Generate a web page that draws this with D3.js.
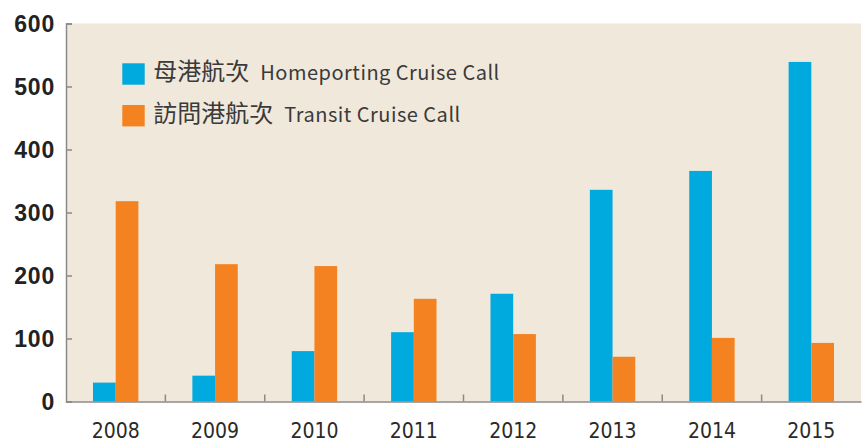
<!DOCTYPE html>
<html>
<head>
<meta charset="utf-8">
<script src="https://cdn.jsdelivr.net/npm/d3@7"></script>
<style>
  body { margin: 0; background: #fff; }
</style>
</head>
<body>
<div id="chart"></div>
<script>
var years = ["2008", "2009", "2010", "2011", "2012", "2013", "2014", "2015"];
var homeporting = [30, 41, 80, 110, 171, 336, 366, 539];
var transit = [318, 218, 215, 163, 107, 71, 101, 93];
var yTicks = [0, 100, 200, 300, 400, 500, 600];
var seriesZh = ["母港航次", "訪問港航次"];
var seriesEn = ["Homeporting Cruise Call", "Transit Cruise Call"];

var colors = ["#00a9de", "#f58220"];

var margin = { top: 23.5, left: 66, bottom: 40.5, right: 6 },
    initialWidth = 867,
    initialHeight = 442,
    width = initialWidth - margin.left - margin.right,
    height = initialHeight - margin.top - margin.bottom;

var svg = d3.select('#chart').append('svg')
    .attr('width', initialWidth)
    .attr('height', initialHeight)
    .append('g')
    .attr('transform', 'translate(' + margin.left + ', ' + margin.top + ')');

// plot background
svg.append("rect")
    .attr("width", width)
    .attr("height", height)
    .attr("fill", "#f0e8da");

const x = d3.scaleBand()
    .domain(years)
    .range([0, width])
    .padding(0);

const groupWidth = 45.4;
const x1 = d3.scaleBand()
    .domain([0, 1])
    .range([0, groupWidth]);

const y = d3.scaleLinear()
    .domain([0, 600])
    .range([height, 0]);

var rows = years.map((yr, i) => ({ year: yr, values: [homeporting[i], transit[i]] }));

var groups = svg.selectAll(".grp")
    .data(rows)
    .join("g")
    .attr("class", "grp")
    .attr("transform", d => "translate(" + (x(d.year) + (x.bandwidth() - groupWidth) / 2) + ",0)");

groups.selectAll("rect")
    .data(d => d.values.map((v, k) => ({ k: k, v: v })))
    .join("rect")
    .attr("x", d => x1(d.k))
    .attr("width", x1.bandwidth())
    .attr("y", d => y(d.v))
    .attr("height", d => height - y(d.v))
    .attr("fill", d => colors[d.k]);

// y axis
var yAxis = svg.append("g")
    .attr("class", "y-axis")
    .call(d3.axisRight(y).tickValues(yTicks).tickSize(6).tickFormat(d3.format("d")));
yAxis.select(".domain").attr("stroke", "#8a8a8a").attr("stroke-width", 1.5);
yAxis.selectAll(".tick line").attr("stroke", "#8a8a8a").attr("stroke-width", 1.5);
yAxis.selectAll("text")
    .attr("x", -11)
    .attr("dy", "0.36em")
    .style("text-anchor", "end")
    .style("font-family", "'Liberation Sans', Arial, sans-serif")
    .style("font-weight", "bold")
    .style("font-size", "23px")
    .style("letter-spacing", "0.8px")
    .attr("fill", "#222");

// x axis line and boundary ticks
var xAxis = svg.append("g")
    .attr("class", "x-axis")
    .attr("transform", "translate(0," + height + ")")
    .call(d3.axisBottom(x).tickSize(0).tickPadding(22));
xAxis.select(".domain").attr("stroke", "#8a8a8a").attr("stroke-width", 1.5);
xAxis.selectAll("text")
    .attr("dy", "0.71em")
    .style("font-family", "'DejaVu Sans Condensed', 'Liberation Sans', sans-serif")
    .style("font-size", "21px")
    .attr("fill", "#2a2a2a");

svg.selectAll(".xb")
    .data(years.slice(1))
    .join("line")
    .attr("class", "xb")
    .attr("x1", d => x(d))
    .attr("x2", d => x(d))
    .attr("y1", height)
    .attr("y2", height - 7)
    .attr("stroke", "#8a8a8a")
    .attr("stroke-width", 1.5);

// legend
var legend = svg.append("g")
    .attr("transform", "translate(56.3, 39.8)");

var li = legend.selectAll("g")
    .data(seriesZh)
    .join("g")
    .attr("transform", (d, i) => "translate(0," + (i * 41.7) + ")");

li.append("rect")
    .attr("width", 22.4)
    .attr("height", 21.4)
    .attr("fill", (d, i) => colors[i]);

var lt = li.append("text")
    .attr("x", 31)
    .attr("y", 11)
    .attr("dy", "0.35em")
    .style("font-family", "'Noto Sans CJK TC', 'Noto Sans', sans-serif")
    .attr("fill", "#3a3a3a");

lt.append("tspan")
    .style("font-size", "24px")
    .text(d => d);

lt.append("tspan")
    .attr("dx", 6)
    .style("font-size", "20px")
    .style("letter-spacing", "0.5px")
    .text((d, i) => " " + seriesEn[i]);
</script>
</body>
</html>
